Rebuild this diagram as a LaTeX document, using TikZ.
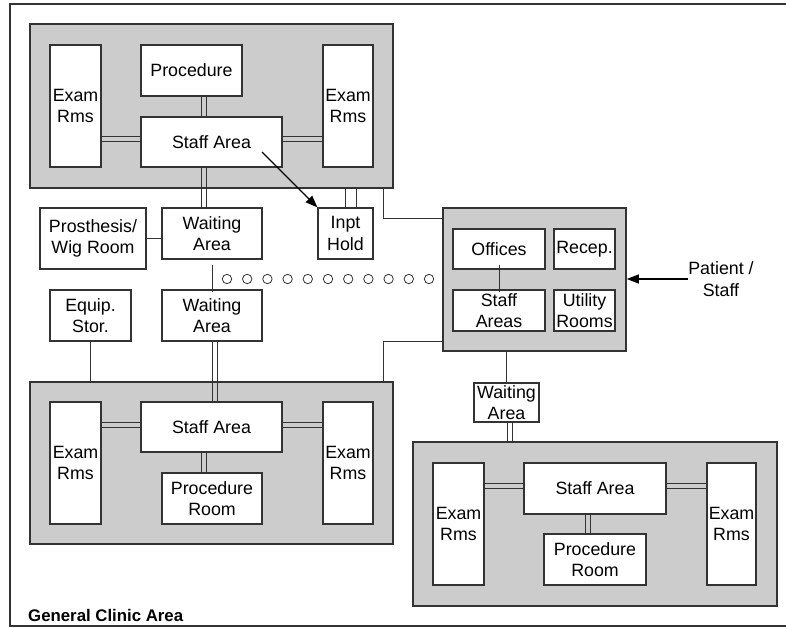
\documentclass[tikz,border=0pt]{standalone}
\usepackage{fontspec}
\setmainfont{Liberation Sans}
\usepackage{tikz}
\usetikzlibrary{arrows.meta}

\definecolor{zonegray}{HTML}{CCCCCC}
\definecolor{ink}{HTML}{333333}

% paired wall lines (x or y of the pair, then the two anchors)
\newcommand{\dlinkv}[3]{%
    \draw [link] (#1-2.5,0 |- #2) -- (#1-2.5,0 |- #3)
                 (#1+2.5,0 |- #2) -- (#1+2.5,0 |- #3);}
\newcommand{\dlinkh}[3]{%
    \draw [link] (#2 |- 0,#1-2.5) -- (#3 |- 0,#1-2.5)
                 (#2 |- 0,#1+2.5) -- (#3 |- 0,#1+2.5);}

\begin{document}
\begin{tikzpicture}[x=1pt, y=-1pt,
    zone/.style={draw=ink, fill=zonegray, line width=1.6pt, inner sep=0},
    room/.style={draw=ink, fill=white, line width=1.1pt, inner sep=0,
        align=center, font=\fontsize{17.8}{21.7}\selectfont},
    link/.style={ink, line width=0.95pt},
    flow/.style={black, line width=1.1pt, -{Triangle[length=12pt, width=9pt]}}]
    \useasboundingbox (0,0) rectangle (786,627);

    % outer frame
    \draw [ink, line width=1.5pt] (786,4) -- (10,4) -- (10,626) -- (786,626);

    % top suite
    \node [zone, minimum width=363, minimum height=164] (topzone) at (211.5,106) {};
        \node [room, minimum width=51, minimum height=122] (t_exam1) at (75.5,106) {Exam\\Rms};
        \node [room, minimum width=101, minimum height=51] (t_proc) at (191.5,70.5) {Procedure};
        \node [room, minimum width=141, minimum height=50] (t_staff) at (211.5,142) {Staff Area};
        \node [room, minimum width=50, minimum height=122] (t_exam2) at (348,106) {Exam\\Rms};

    % rooms between the suites
    \node [room, minimum width=106, minimum height=61] (prosth) at (93,238.5) {Prosthesis/\\Wig Room};
    \node [room, minimum width=100, minimum height=51] (wait1) at (212,233.5) {Waiting\\Area};
    \node [room, minimum width=55, minimum height=51] (inpt) at (345.5,233.5) {Inpt\\Hold};
    \node [room, minimum width=81, minimum height=51] (equip) at (90.5,315.5) {Equip.\\Stor.};
    \node [room, minimum width=100, minimum height=51] (wait2) at (212,315.5) {Waiting\\Area};

    % hub
    \node [zone, minimum width=183, minimum height=143] (hub) at (534.5,279.5) {};
        \node [room, minimum width=92, minimum height=40] (offices) at (499,249) {Offices};
        \node [room, minimum width=61, minimum height=40] (recep) at (584.5,249) {Recep.};
        \node [room, minimum width=92, minimum height=41] (staffareas) at (499,310.5) {Staff\\Areas};
        \node [room, minimum width=61, minimum height=41] (utility) at (584.5,310.5) {Utility\\Rooms};

    % lower left suite
    \node [zone, minimum width=363, minimum height=162] (lzone) at (211.5,463) {};
        \node [room, minimum width=51, minimum height=122] (l_exam1) at (75.5,463) {Exam\\Rms};
        \node [room, minimum width=141, minimum height=50] (l_staff) at (211.5,427) {Staff Area};
        \node [room, minimum width=100, minimum height=51] (l_proc) at (212,498.5) {Procedure\\Room};
        \node [room, minimum width=50, minimum height=122] (l_exam2) at (348,463) {Exam\\Rms};

    % lower right suite
    \node [room, minimum width=65, minimum height=39] (wait3) at (506.5,402.5) {Waiting\\Area};
    \node [zone, minimum width=364, minimum height=164] (rzone) at (595,524) {};
        \node [room, minimum width=51, minimum height=122] (r_exam1) at (458.5,524) {Exam\\Rms};
        \node [room, minimum width=142, minimum height=51] (r_staff) at (595,488.5) {Staff Area};
        \node [room, minimum width=102, minimum height=51] (r_proc) at (595,559.5) {Procedure\\Room};
        \node [room, minimum width=49, minimum height=122] (r_exam2) at (731.5,524) {Exam\\Rms};

    % double walls
    \dlinkh{139}{t_exam1.east}{t_staff.west}
    \dlinkh{139}{t_staff.east}{t_exam2.west}
    \dlinkv{204}{t_proc.south}{t_staff.north}
    \dlinkv{204}{t_staff.south}{wait1.north}
    \dlinkv{214.5}{wait2.south}{l_staff.north}
    \dlinkh{425}{l_exam1.east}{l_staff.west}
    \dlinkh{425}{l_staff.east}{l_exam2.west}
    \dlinkv{204}{l_staff.south}{l_proc.north}
    \dlinkv{509.5}{wait3.south}{rzone.north}
    \dlinkh{486}{r_exam1.east}{r_staff.west}
    \dlinkh{486}{r_staff.east}{r_exam2.west}
    \dlinkv{588}{r_staff.south}{r_proc.north}

    % single walls
    \draw [link] (prosth.east) -- (prosth.east -| wait1.west);
    \draw [link] ([yshift=-5pt]wait1.south) -- ([yshift=-3pt]wait2.north);
    \draw [link] (345,0 |- topzone.south) -- (345,0 |- inpt.north);
    \draw [link] (356,0 |- topzone.south) -- (356,0 |- inpt.north);
    \draw [link] (383,0 |- topzone.south) |- (hub.west |- 0,218);
    \draw [link] (hub.west |- 0,341) -| (383,0 |- lzone.north);
    \draw [link] (equip.south) -- (equip.south |- lzone.north);
    \draw [link] ([yshift=5pt]offices.south) -- ([yshift=-3pt]staffareas.north);
    \draw [link] (wait3.north) -- (wait3.north |- hub.south);

    % corridor
    \foreach \i in {0,...,10}
        \draw [ink, line width=0.8pt] (227+20.2*\i,279) circle (4.7);

    % arrows
    \draw [flow] ([shift={(50.5,10)}]t_staff.center) -- (inpt.north west);
    \node [align=center, inner sep=0.5pt, font=\fontsize{17.8}{21.7}\selectfont]
        (patient) at (721,279) {Patient /\\Staff};
    \draw [flow] (patient.west) -- (patient.west -| hub.east);

    \node [anchor=base west, inner sep=0, font=\bfseries\fontsize{16.8}{20}\selectfont]
        (title) at (28,621) {General Clinic Area};
\end{tikzpicture}
\end{document}
